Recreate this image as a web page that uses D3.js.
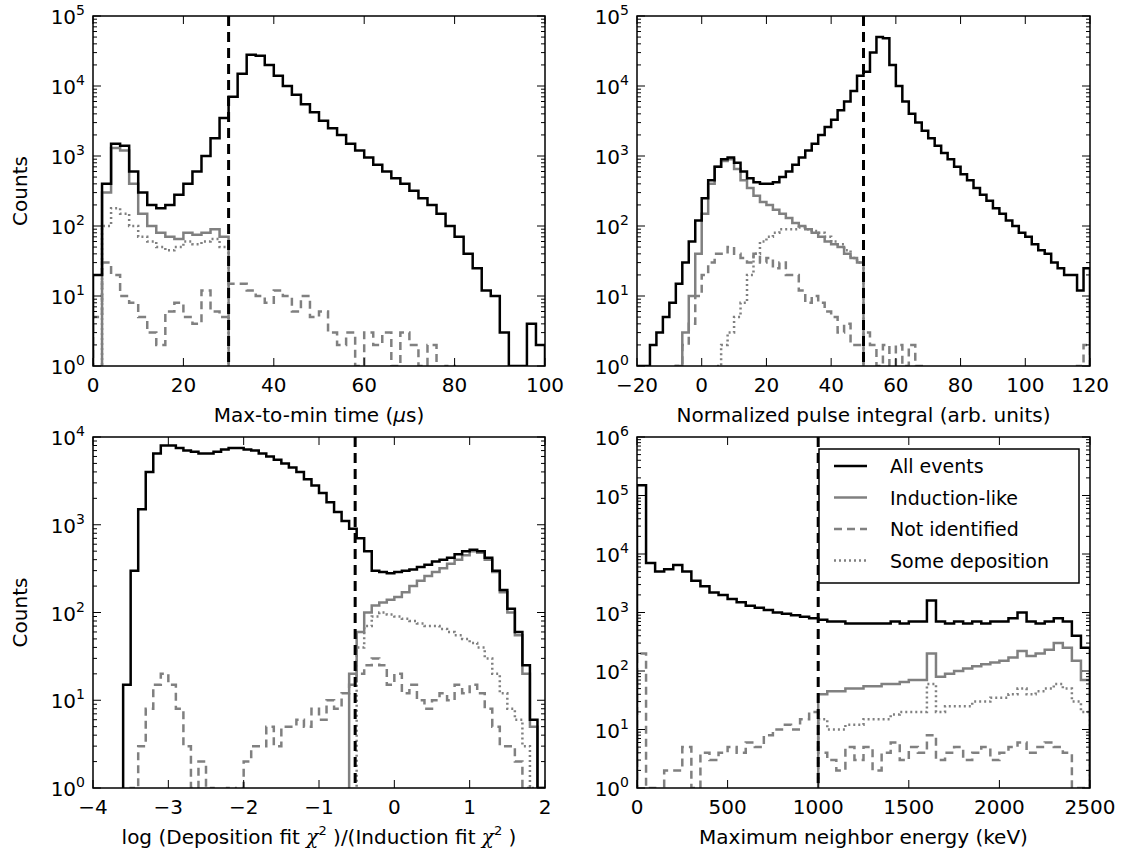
<!DOCTYPE html>
<html><head><meta charset="utf-8">
<script src="https://cdn.jsdelivr.net/npm/d3@7"></script>
<style>body{margin:0;background:#fff}text{font-family:"DejaVu Sans",sans-serif;fill:#000}</style>
</head><body>
<svg id="fig" width="1128" height="859"></svg>
<script>
// Panel 1: max-to-min time, bins of 2 us starting at 0
var timeBins = {start: 0, width: 2};
var timeAll = [20,400,1500,1400,600,300,200,180,200,280,400,600,1000,1800,3500,7000,15000,28000,27000,20000,14000,10000,7500,5500,4200,3200,2500,2000,1500,1200,950,750,600,480,400,320,250,200,150,100,70,40,25,12,10,3,1,1,4,2];
var timeInd = [0,300,1300,1200,400,150,100,80,70,65,80,75,80,90,70];
var timeDep = [0,100,180,150,100,70,60,50,45,50,60,55,60,65,50];
var timeNot = [5,30,20,10,8,5,3,2,6,8,5,4,12,6,5,15,15,12,10,8,12,10,6,10,5,6,3,2,3,1,3,2,3,1,3,2,1,2,0,1,0,0,0,0,0,0,0,0,0,0];

// Panel 2: normalized pulse integral, bins of 2 starting at -20
var pulseBins = {start: -20, width: 2};
var pulseAll = [1,1,2,3,5,8,15,30,60,120,250,450,700,900,950,800,600,480,420,400,400,420,500,600,750,950,1200,1500,2000,2600,3300,4500,6000,8500,14000,16000,30000,50000,48000,20000,10000,6000,4000,3000,2300,1800,1400,1100,900,700,550,450,350,280,230,180,150,120,100,80,70,55,45,40,30,25,20,20,12,25];
var pulseInd = [0,0,0,0,0,0,1,3,10,40,150,400,700,850,900,650,450,350,270,220,200,170,150,130,110,100,90,80,70,60,55,50,40,35,30];
var pulseDep = [0,0,0,0,0,0,0,0,0,0,0,0,1,2,3,5,8,20,40,60,70,80,90,90,90,95,90,85,80,70,60,55,45,35,30];
var pulseNot = [0,0,0,0,0,0,1,2,4,10,20,30,40,40,50,40,35,30,40,30,35,25,30,20,20,12,8,10,8,6,5,3,4,2,2,3,2,1,2,1,2,1,2,1,0,0,0,0,0,0,0,0,0,0,0,0,0,0,0,0,0,0,0,0,0,0,0,0,1,2];

// Panel 3: log chi2 ratio, bins of 0.1 starting at -4
var chiBins = {start: -4, width: 0.1};
var chiAll = [0,0,0,0,15,300,1500,4000,6500,8000,8000,7500,7000,6800,6500,6500,6800,7200,7500,7500,7200,7000,6500,6000,5500,5000,4500,4000,3300,2800,2300,1800,1400,1100,900,700,500,300,290,280,290,300,310,330,350,380,400,420,460,500,520,500,420,300,180,110,60,25,6,1];
var chiInd = [0,0,0,0,0,0,0,0,0,0,0,0,0,0,0,0,0,0,0,0,0,0,0,0,0,0,0,0,0,0,0,0,0,0,20,60,100,120,130,140,150,170,200,230,260,290,320,360,400,450,500,480,400,290,170,100,55,20,5,1];
var chiDep = [0,0,0,0,0,0,0,0,0,0,0,0,0,0,0,0,0,0,0,0,0,0,0,0,0,0,0,0,0,0,0,0,0,0,0,40,70,90,100,95,90,85,80,75,70,70,65,60,55,50,45,40,30,20,12,8,6,3,1,0];
var chiNot = [0,0,0,0,0,1,3,8,15,20,15,8,3,1,2,1,0,1,0,1,2,3,3,5,3,5,5,6,5,8,6,10,8,12,15,20,25,30,25,15,20,12,15,10,8,10,12,10,15,12,15,12,8,5,3,3,2,1,0,0];

// Panel 4: maximum neighbor energy, bins of 50 keV starting at 0
var energyBins = {start: 0, width: 50};
var energyAll = [150000,7000,5000,5500,6500,5000,3500,2800,2200,2000,1700,1500,1300,1200,1100,1000,950,900,850,800,750,700,700,650,650,650,650,650,700,650,700,700,1600,700,650,700,650,700,650,700,700,800,1000,700,650,700,800,700,400,250];
var energyInd = [0,0,0,0,0,0,0,0,0,0,0,0,0,0,0,0,0,0,0,0,40,45,45,50,50,55,55,60,60,65,70,70,200,80,90,100,110,120,130,140,150,170,220,180,200,230,300,250,150,70];
var energyDep = [0,0,0,0,0,0,0,0,0,0,0,0,0,0,0,0,0,0,0,0,15,10,10,12,12,15,15,15,18,20,20,20,60,20,25,25,25,30,30,35,35,40,50,40,45,50,60,50,30,20];
var energyNot = [200,1,0,2,2,5,1,4,3,4,5,4,6,5,8,10,12,10,15,20,4,3,2,5,3,5,2,4,6,3,5,4,8,3,4,5,3,4,5,3,4,5,6,4,5,6,5,4,1,1];

var legendNames = ["All events","Induction-like","Not identified","Some deposition"];

var styles = {
  all: {stroke: "#000", dash: null},
  ind: {stroke: "#808080", dash: null},
  not: {stroke: "#808080", dash: "8,5"},
  dep: {stroke: "#808080", dash: "2,3"}
};

var panels = [
  {x0: 93, x1: 545, y0: 16, y1: 366, xdom: [0,100], xticks: [0,20,40,60,80,100], ymax: 5, cut: 30,
   bins: timeBins, series: [["not",timeNot],["dep",timeDep],["ind",timeInd],["all",timeAll]], ylabel: true, xlabel: "time"},
  {x0: 637, x1: 1090, y0: 16, y1: 366, xdom: [-20,120], xticks: [-20,0,20,40,60,80,100,120], ymax: 5, cut: 50,
   bins: pulseBins, series: [["not",pulseNot],["dep",pulseDep],["ind",pulseInd],["all",pulseAll]], xlabel: "Normalized pulse integral (arb. units)"},
  {x0: 93, x1: 545, y0: 437, y1: 788, xdom: [-4,2], xticks: [-4,-3,-2,-1,0,1,2], ymax: 4, cut: -0.52,
   bins: chiBins, series: [["not",chiNot],["dep",chiDep],["ind",chiInd],["all",chiAll]], ylabel: true, xlabel: "chi"},
  {x0: 637, x1: 1090, y0: 437, y1: 788, xdom: [0,2500], xticks: [0,500,1000,1500,2000,2500], ymax: 6, cut: 1000,
   bins: energyBins, series: [["not",energyNot],["dep",energyDep],["ind",energyInd],["all",energyAll]], xlabel: "Maximum neighbor energy (keV)", legend: true}
];

var svg = d3.select("#fig");

panels.forEach(function(p, pi) {
  var x = d3.scaleLinear().domain(p.xdom).range([p.x0, p.x1]);
  var y = d3.scaleLog().domain([1, Math.pow(10, p.ymax)]).range([p.y1, p.y0]);
  var g = svg.append("g");
  var clipId = "clip" + pi;
  g.append("clipPath").attr("id", clipId).append("rect")
    .attr("x", p.x0).attr("y", p.y0).attr("width", p.x1 - p.x0).attr("height", p.y1 - p.y0);
  var plot = g.append("g").attr("clip-path", "url(#" + clipId + ")");

  function yv(v) { return v > 0 ? y(v) : p.y1 + 5; }

  p.series.forEach(function(s) {
    var vals = s[1], st = styles[s[0]];
    var pts = [];
    var e0 = p.bins.start;
    pts.push([x(e0), p.y1 + 5]);
    vals.forEach(function(v, i) {
      var a = x(e0 + i * p.bins.width), b = x(e0 + (i + 1) * p.bins.width);
      pts.push([a, yv(v)]); pts.push([b, yv(v)]);
    });
    pts.push([x(e0 + vals.length * p.bins.width), p.y1 + 5]);
    plot.append("path").attr("d", d3.line()(pts)).attr("fill", "none")
      .attr("stroke", st.stroke).attr("stroke-width", 2.5)
      .attr("stroke-dasharray", st.dash).attr("stroke-linejoin", "miter");
  });

  // cut line
  plot.append("line").attr("x1", x(p.cut)).attr("x2", x(p.cut)).attr("y1", p.y0).attr("y2", p.y1)
    .attr("stroke", "#000").attr("stroke-width", 3).attr("stroke-dasharray", "10,6");

  // frame
  g.append("rect").attr("x", p.x0).attr("y", p.y0).attr("width", p.x1 - p.x0).attr("height", p.y1 - p.y0)
    .attr("fill", "none").attr("stroke", "#000").attr("stroke-width", 1.5);

  // x ticks
  p.xticks.forEach(function(t) {
    var xx = x(t);
    g.append("line").attr("x1", xx).attr("x2", xx).attr("y1", p.y1).attr("y2", p.y1 - 8).attr("stroke", "#000");
    g.append("line").attr("x1", xx).attr("x2", xx).attr("y1", p.y0).attr("y2", p.y0 + 8).attr("stroke", "#000");
    g.append("text").attr("x", xx).attr("y", p.y1 + 26).attr("text-anchor", "middle")
      .attr("font-size", 20).text(t < 0 ? "\u2212" + (-t) : t);
  });

  // y ticks, log
  for (var d = 0; d <= p.ymax; d++) {
    var yy = y(Math.pow(10, d));
    [[p.x0, 8], [p.x1, -8]].forEach(function(side) {
      g.append("line").attr("x1", side[0]).attr("x2", side[0] + side[1]).attr("y1", yy).attr("y2", yy).attr("stroke", "#000");
    });
    var tx = g.append("text").attr("x", p.x0 - 8).attr("y", yy + 8).attr("text-anchor", "end").attr("font-size", 20);
    tx.append("tspan").text("10");
    tx.append("tspan").attr("dy", -9).attr("font-size", 14).text(d);
    if (d < p.ymax) {
      for (var m = 2; m <= 9; m++) {
        var ym = y(m * Math.pow(10, d));
        [[p.x0, 4], [p.x1, -4]].forEach(function(side) {
          g.append("line").attr("x1", side[0]).attr("x2", side[0] + side[1]).attr("y1", ym).attr("y2", ym).attr("stroke", "#000");
        });
      }
    }
  }

  if (p.ylabel) {
    g.append("text").attr("transform", "translate(27," + ((p.y0 + p.y1) / 2) + ") rotate(-90)")
      .attr("text-anchor", "middle").attr("font-size", 20).text("Counts");
  }
  var lx = (p.x0 + p.x1) / 2, ly = p.y1 + 56;
  var lab = g.append("text").attr("x", lx).attr("y", ly).attr("text-anchor", "middle").attr("font-size", 20);
  if (p.xlabel === "time") {
    lab.append("tspan").text("Max-to-min time (");
    lab.append("tspan").attr("font-style", "italic").text("\u03bc");
    lab.append("tspan").text("s)");
  } else if (p.xlabel === "chi") {
    lab.append("tspan").text("log (Deposition fit ");
    lab.append("tspan").attr("font-style", "italic").attr("font-family", "DejaVu Serif").text("\u03c7");
    lab.append("tspan").attr("dy", -9).attr("font-size", 13).text("2");
    lab.append("tspan").attr("dy", 9).text(" )/(Induction fit ");
    lab.append("tspan").attr("font-style", "italic").attr("font-family", "DejaVu Serif").text("\u03c7");
    lab.append("tspan").attr("dy", -9).attr("font-size", 13).text("2");
    lab.append("tspan").attr("dy", 9).text(" )");
  } else {
    lab.text(p.xlabel);
  }

  if (p.legend) {
    var lg = g.append("g");
    lg.append("rect").attr("x", 819).attr("y", 449).attr("width", 260).attr("height", 134)
      .attr("fill", "#fff").attr("stroke", "#000").attr("stroke-width", 1.5);
    ["all","ind","not","dep"].forEach(function(k, i) {
      var cy = 466 + i * 31.5;
      lg.append("line").attr("x1", 834).attr("x2", 867).attr("y1", cy).attr("y2", cy)
        .attr("stroke", styles[k].stroke).attr("stroke-width", 2.5).attr("stroke-dasharray", styles[k].dash);
      lg.append("text").attr("x", 890).attr("y", cy + 7).attr("font-size", 19).text(legendNames[i]);
    });
  }
});
</script>
</body></html>
